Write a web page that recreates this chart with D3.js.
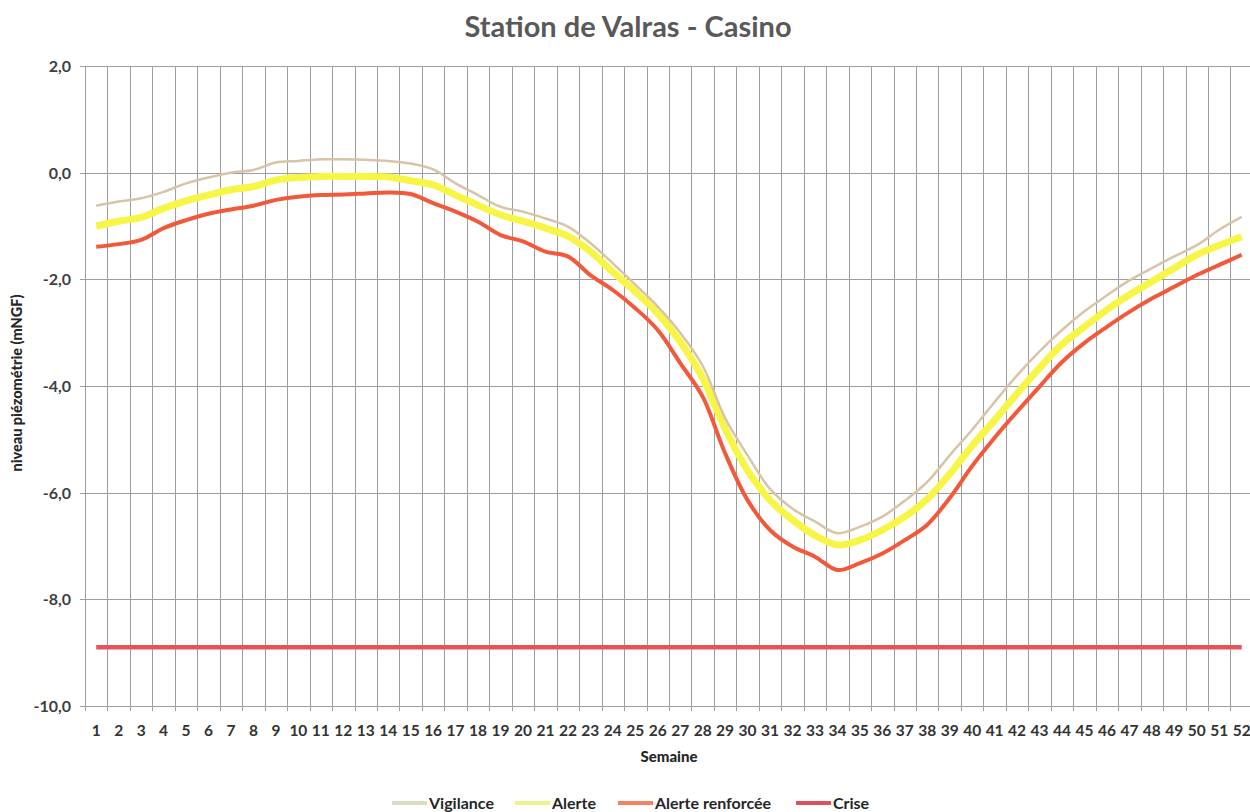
<!DOCTYPE html>
<html>
<head>
<meta charset="utf-8">
<script src="https://cdn.jsdelivr.net/npm/d3@7"></script>
<style>
  body { margin: 0; background: #fff; }
  svg text { font-family: Lato, "Open Sans", sans-serif; }
</style>
</head>
<body>
<div id="viz"></div>
<script>
// Station de Valras - Casino : seuils piézométriques par semaine
const weeks = d3.range(1, 53);
const yTicks = [2, 0, -2, -4, -6, -8, -10];

const vigilance = [-0.62, -0.54, -0.48, -0.36, -0.2, -0.09, 0.0, 0.05, 0.19, 0.22,
  0.25, 0.25, 0.24, 0.22, 0.17, 0.06, -0.2, -0.42, -0.64, -0.73,
  -0.86, -1.01, -1.32, -1.7, -2.1, -2.51, -3.0, -3.62, -4.6, -5.3,
  -5.93, -6.3, -6.54, -6.76, -6.64, -6.45, -6.15, -5.8, -5.3, -4.82,
  -4.3, -3.8, -3.35, -2.95, -2.6, -2.3, -2.02, -1.79, -1.57, -1.36,
  -1.07, -0.83];
const alerte = [-1.0, -0.91, -0.84, -0.67, -0.53, -0.42, -0.32, -0.26, -0.14, -0.09,
  -0.07, -0.07, -0.07, -0.08, -0.15, -0.23, -0.42, -0.61, -0.79, -0.91,
  -1.04, -1.19, -1.48, -1.86, -2.23, -2.64, -3.17, -3.85, -4.8, -5.58,
  -6.14, -6.51, -6.8, -6.98, -6.89, -6.7, -6.45, -6.12, -5.65, -5.12,
  -4.64, -4.14, -3.66, -3.22, -2.89, -2.57, -2.29, -2.04, -1.79, -1.54,
  -1.36, -1.2];
const renforcee = [-1.39, -1.34, -1.26, -1.04, -0.89, -0.77, -0.69, -0.62, -0.51, -0.45,
  -0.42, -0.41, -0.39, -0.37, -0.4, -0.57, -0.73, -0.92, -1.17, -1.29,
  -1.48, -1.57, -1.92, -2.2, -2.54, -2.95, -3.57, -4.2, -5.26, -6.14,
  -6.7, -7.01, -7.2, -7.45, -7.32, -7.14, -6.89, -6.6, -6.1, -5.5,
  -4.97, -4.48, -4.01, -3.55, -3.19, -2.89, -2.61, -2.36, -2.14, -1.92,
  -1.73, -1.54];
const crise = [-8.9, -8.9, -8.9, -8.9, -8.9, -8.9, -8.9, -8.9, -8.9, -8.9,
  -8.9, -8.9, -8.9, -8.9, -8.9, -8.9, -8.9, -8.9, -8.9, -8.9,
  -8.9, -8.9, -8.9, -8.9, -8.9, -8.9, -8.9, -8.9, -8.9, -8.9,
  -8.9, -8.9, -8.9, -8.9, -8.9, -8.9, -8.9, -8.9, -8.9, -8.9,
  -8.9, -8.9, -8.9, -8.9, -8.9, -8.9, -8.9, -8.9, -8.9, -8.9,
  -8.9, -8.9];

const series = [
  { name: "Vigilance", values: vigilance, color: "#d8c4a8", width: 2.5, legend: "#dcdcc0" },
  { name: "Alerte", values: alerte, color: "#f7f545", width: 7, legend: "#eef28a" },
  { name: "Alerte renforcée", values: renforcee, color: "#f2593a", width: 4, legend: "#f4845f" },
  { name: "Crise", values: crise, color: "#e5535c", width: 4.5, legend: "#e0505a" }
];

const W = 1250, H = 812;
const margin = { top: 66, left: 85, bottom: 106 };
const plotW = 52 * 22.46;

const svg = d3.select("#viz").append("svg")
  .attr("width", W)
  .attr("height", H);

const x = d3.scaleBand().domain(weeks).range([margin.left, margin.left + plotW]).padding(0);
const y = d3.scaleLinear().domain([-10, 2]).range([H - margin.bottom, margin.top]);
const xc = d => x(d) + x.bandwidth() / 2;
const fmt = v => d3.format(".1f")(v).replace(".", ",").replace("−", "-");

// grid
const grid = svg.append("g").attr("stroke", "#9e9e9e").attr("stroke-width", 1);
grid.selectAll("line.h").data(yTicks).enter().append("line")
  .attr("x1", margin.left - 5).attr("x2", margin.left + plotW)
  .attr("y1", d => Math.round(y(d)) + 0.5).attr("y2", d => Math.round(y(d)) + 0.5);
const bounds = weeks.map(w => x(w)).concat([margin.left + plotW]);
grid.selectAll("line.v").data(bounds).enter().append("line")
  .attr("x1", d => Math.round(d) + 0.5).attr("x2", d => Math.round(d) + 0.5)
  .attr("y1", margin.top).attr("y2", y(-10) + 5);

// axes labels
svg.append("g").selectAll("text").data(yTicks).enter().append("text")
  .attr("x", 71).attr("y", d => y(d) + 6)
  .attr("text-anchor", "end")
  .attr("font-size", 16).attr("font-weight", "bold").attr("fill", "#404040")
  .text(fmt);

svg.append("g").selectAll("text").data(weeks).enter().append("text")
  .attr("x", xc).attr("y", 736)
  .attr("text-anchor", "middle")
  .attr("font-size", 15.5).attr("font-weight", "bold").attr("fill", "#333")
  .text(d => d);

svg.append("text")
  .attr("x", 669).attr("y", 762)
  .attr("text-anchor", "middle")
  .attr("font-size", 15).attr("font-weight", "900").attr("fill", "#262626")
  .text("Semaine");

svg.append("text")
  .attr("transform", "translate(22,383) rotate(-90)")
  .attr("text-anchor", "middle")
  .attr("font-size", 14.5).attr("font-weight", "900").attr("fill", "#262626")
  .text("niveau piézométrie (mNGF)");

svg.append("text")
  .attr("x", 628).attr("y", 37)
  .attr("text-anchor", "middle")
  .attr("font-size", 29).attr("font-weight", "bold").attr("fill", "#595959")
  .text("Station de Valras - Casino");

// lines
const line = d3.line()
  .x((v, i) => xc(weeks[i]))
  .y(v => y(v))
  .curve(d3.curveCatmullRom.alpha(0.5));

svg.append("g").selectAll("path").data(series.slice().reverse()).enter().append("path")
  .attr("fill", "none")
  .attr("stroke", d => d.color)
  .attr("stroke-width", d => d.width)
  .attr("stroke-linejoin", "round")
  .attr("d", d => line(d.values));

// legend
const legendPos = [392, 515, 618, 796];
const lg = svg.append("g").selectAll("g").data(series).enter().append("g")
  .attr("transform", (d, i) => `translate(${legendPos[i]},803)`);
lg.append("line")
  .attr("x1", 0).attr("x2", 35).attr("y1", 0).attr("y2", 0)
  .attr("stroke", d => d.legend).attr("stroke-width", 4);
lg.append("text")
  .attr("x", 37).attr("y", 6)
  .attr("font-size", 16).attr("font-weight", "bold").attr("fill", "#262626")
  .text(d => d.name);
</script>
</body>
</html>
